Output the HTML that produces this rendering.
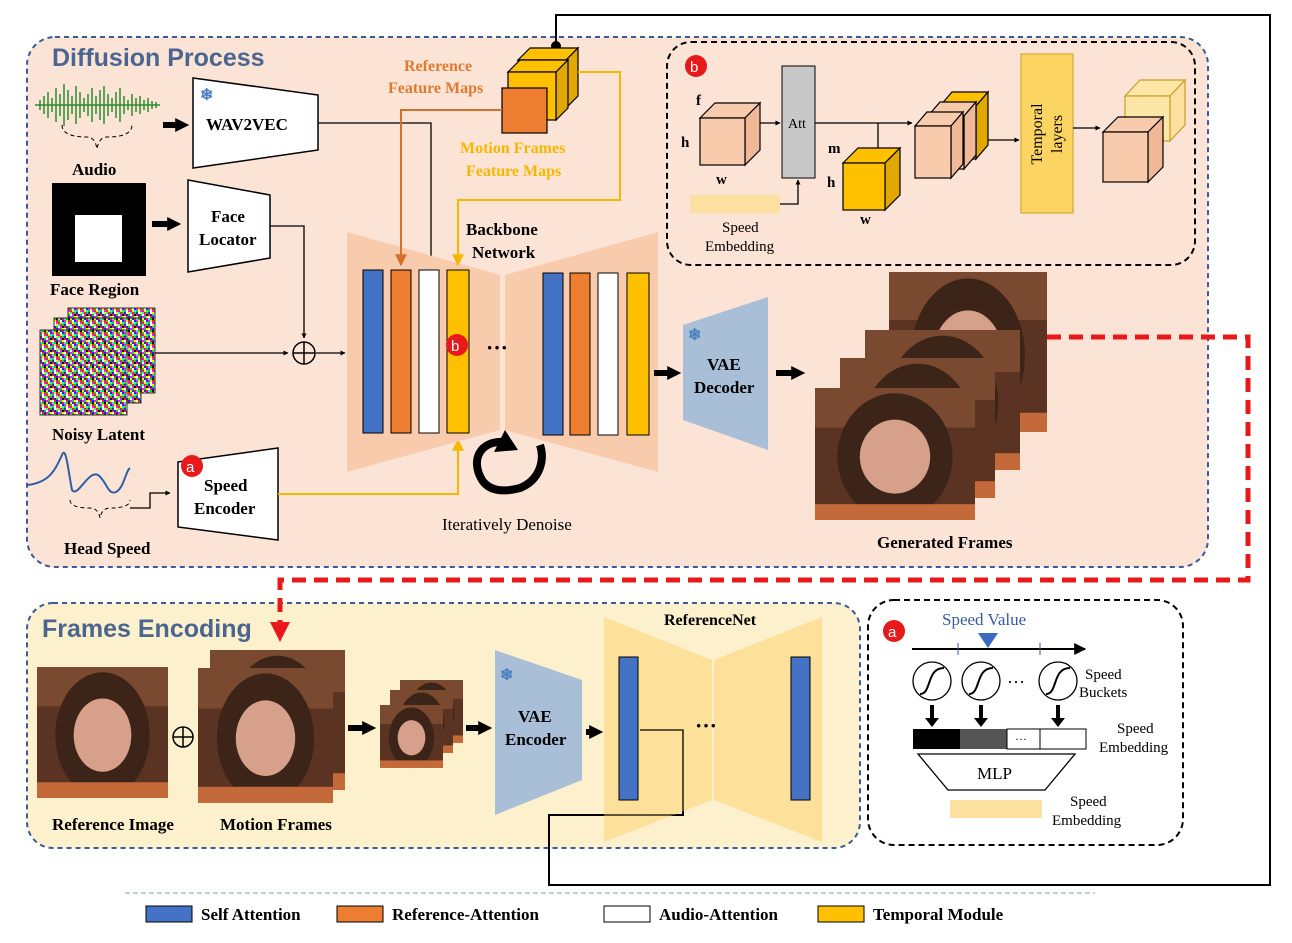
<!DOCTYPE html>
<html><head><meta charset="utf-8"><style>
body{margin:0;background:#fff}
svg{display:block}
text{font-family:"Liberation Serif",serif;font-weight:bold;fill:#000}
.s{font-family:"Liberation Sans",sans-serif}
.n{font-weight:normal}
</style></head><body>
<svg width="1292" height="943" viewBox="0 0 1292 943" xmlns="http://www.w3.org/2000/svg">
<defs>
<marker id="ar" viewBox="0 0 10 10" refX="9" refY="5" markerWidth="6" markerHeight="6" orient="auto"><path d="M0,0L10,5L0,10z" fill="#000"/></marker>
<marker id="at" viewBox="0 0 10 10" refX="2" refY="5" markerWidth="14" markerHeight="16" markerUnits="userSpaceOnUse" orient="auto"><path d="M0,0L10,5L0,10z" fill="#000"/></marker>
<marker id="ao" viewBox="0 0 10 10" refX="9" refY="5" markerWidth="6" markerHeight="6" orient="auto"><path d="M0,0L10,5L0,10z" fill="#d5702a"/></marker>
<marker id="ay" viewBox="0 0 10 10" refX="9" refY="5" markerWidth="6" markerHeight="6" orient="auto"><path d="M0,0L10,5L0,10z" fill="#f5b800"/></marker>
<marker id="ab" viewBox="0 0 10 10" refX="9" refY="5" markerWidth="4" markerHeight="4" orient="auto"><path d="M0,0L10,5L0,10z" fill="#000"/></marker>
<marker id="arr" viewBox="0 0 10 10" refX="9" refY="5" markerWidth="4" markerHeight="4" orient="auto"><path d="M0,0L10,5L0,10z" fill="#e8191a"/></marker>
<pattern id="noise" width="12" height="12" patternUnits="userSpaceOnUse">
<rect width="12" height="12" fill="#555"/>
<rect x="0" y="0" width="2" height="2" fill="#e22"/><rect x="2" y="0" width="2" height="2" fill="#2c2"/><rect x="4" y="0" width="2" height="2" fill="#22e"/><rect x="6" y="0" width="2" height="2" fill="#fff"/><rect x="8" y="0" width="2" height="2" fill="#ee2"/><rect x="10" y="0" width="2" height="2" fill="#2ee"/>
<rect x="0" y="2" width="2" height="2" fill="#e2e"/><rect x="2" y="2" width="2" height="2" fill="#111"/><rect x="4" y="2" width="2" height="2" fill="#e22"/><rect x="6" y="2" width="2" height="2" fill="#22e"/><rect x="8" y="2" width="2" height="2" fill="#2c2"/><rect x="10" y="2" width="2" height="2" fill="#fff"/>
<rect x="0" y="4" width="2" height="2" fill="#2c2"/><rect x="2" y="4" width="2" height="2" fill="#ee2"/><rect x="4" y="4" width="2" height="2" fill="#fff"/><rect x="6" y="4" width="2" height="2" fill="#e22"/><rect x="8" y="4" width="2" height="2" fill="#22e"/><rect x="10" y="4" width="2" height="2" fill="#e2e"/>
<rect x="0" y="6" width="2" height="2" fill="#22e"/><rect x="2" y="6" width="2" height="2" fill="#e22"/><rect x="4" y="6" width="2" height="2" fill="#2ee"/><rect x="6" y="6" width="2" height="2" fill="#2c2"/><rect x="8" y="6" width="2" height="2" fill="#111"/><rect x="10" y="6" width="2" height="2" fill="#ee2"/>
<rect x="0" y="8" width="2" height="2" fill="#fff"/><rect x="2" y="8" width="2" height="2" fill="#22e"/><rect x="4" y="8" width="2" height="2" fill="#e2e"/><rect x="6" y="8" width="2" height="2" fill="#ee2"/><rect x="8" y="8" width="2" height="2" fill="#e22"/><rect x="10" y="8" width="2" height="2" fill="#2c2"/>
<rect x="0" y="10" width="2" height="2" fill="#ee2"/><rect x="2" y="10" width="2" height="2" fill="#2ee"/><rect x="4" y="10" width="2" height="2" fill="#2c2"/><rect x="6" y="10" width="2" height="2" fill="#fff"/><rect x="8" y="10" width="2" height="2" fill="#e2e"/><rect x="10" y="10" width="2" height="2" fill="#e22"/>
</pattern>
<g id="face">
<rect width="100" height="100" fill="#5a3322"/>
<rect width="100" height="30" fill="#7a4a30"/>
<ellipse cx="50" cy="52" rx="36" ry="48" fill="#3d2418"/>
<ellipse cx="50" cy="52" rx="22" ry="28" fill="#d6a08a"/>
<rect x="0" y="88" width="100" height="12" fill="#c46a3a"/>
</g>
</defs>

<rect x="27" y="37" width="1181" height="530" rx="28" fill="#fbe3d6" stroke="#3a5a9a" stroke-width="2" stroke-dasharray="5,4"/>
<rect x="27" y="603" width="833" height="245" rx="26" fill="#fdf0cc" stroke="#3a5a9a" stroke-width="2" stroke-dasharray="5,4"/>
<text x="52" y="66" class="s" font-size="25" style="fill:#4a6690">Diffusion Process</text>
<text x="42" y="637" class="s" font-size="25" style="fill:#4a6690">Frames Encoding</text>

<polyline points="556,45 556,15 1270,15 1270,885 549,885 549,815 683,815 683,730 640,730" fill="none" stroke="#000" stroke-width="2"/>
<circle cx="556" cy="46" r="5" fill="#000"/>

<rect x="667" y="42" width="528" height="223" rx="24" fill="#fbe3d6" stroke="#000" stroke-width="2" stroke-dasharray="6,4"/>
<rect x="868" y="600" width="315" height="245" rx="26" fill="#fff" stroke="#000" stroke-width="2" stroke-dasharray="6,4"/>

<g stroke="#2e8b2e" stroke-width="1.5">
<path d="M35,105 L160,105"/>
<path d="M40,100v10M44,96v18M48,92v26M52,98v14M56,88v34M60,94v22M64,84v42M68,90v30M72,96v18M76,86v38M80,92v26M84,98v14M88,94v22M92,88v34M96,96v18M100,90v30M104,86v38M108,94v22M112,98v14M116,92v26M120,88v34M124,96v18M128,100v10M132,94v22M136,98v14M140,96v18M144,100v10M148,98v14M152,101v8M156,102v6"/>
</g>
<path d="M62,125 q0,12 25,12 q8,0 10,12 q2,-12 10,-12 q25,0 25,-12" fill="none" stroke="#000" stroke-dasharray="4,3"/>
<text x="72" y="175" font-size="17">Audio</text>
<path d="M163,125 H178" stroke="#000" stroke-width="6" marker-end="url(#at)"/>
<polygon points="193,78 318,95 318,150 193,168" fill="#fff" stroke="#000" stroke-width="1.5"/>
<text x="206" y="130" font-size="17">WAV2VEC</text>
<text x="200" y="100" font-size="16" style="fill:#4a7fc0">❄</text>
<polyline points="318,123 431,123 431,265" fill="none" stroke="#000" stroke-width="1.3" marker-end="url(#ab)"/>

<rect x="52" y="183" width="94" height="93" fill="#000"/>
<rect x="75" y="215" width="47" height="47" fill="#fff"/>
<text x="50" y="295" font-size="17">Face Region</text>
<path d="M152,224 H170" stroke="#000" stroke-width="6" marker-end="url(#at)"/>
<polygon points="188,180 270,195 270,258 188,272" fill="#fff" stroke="#000" stroke-width="1.5"/>
<text x="211" y="222" font-size="17">Face</text>
<text x="199" y="245" font-size="17">Locator</text>
<polyline points="270,226 304,226 304,338" fill="none" stroke="#000" stroke-width="1.3" marker-end="url(#ab)"/>

<rect x="68" y="308" width="87" height="85" fill="url(#noise)" stroke="#333"/>
<rect x="54" y="318" width="87" height="85" fill="url(#noise)" stroke="#333"/>
<rect x="40" y="330" width="87" height="85" fill="url(#noise)" stroke="#333"/>
<text x="52" y="440" font-size="17">Noisy Latent</text>
<path d="M155,353 H288" stroke="#000" stroke-width="1.3" marker-end="url(#ab)"/>
<circle cx="304" cy="353" r="11" fill="none" stroke="#000" stroke-width="1.5"/>
<path d="M293,353H315M304,342V364" stroke="#000" stroke-width="1.5"/>
<path d="M316,353 H345" stroke="#000" stroke-width="1.3" marker-end="url(#ab)"/>

<path d="M28,485 C50,482 55,470 62,455 C66,445 68,470 72,490 C78,498 88,470 98,475 C106,480 108,496 116,492 C124,488 126,470 130,468" fill="none" stroke="#2e5ea8" stroke-width="2"/>
<path d="M70,500 q0,8 20,8 q8,0 10,10 q2,-10 10,-10 q20,0 20,-8" fill="none" stroke="#000" stroke-dasharray="4,3"/>
<text x="64" y="554" font-size="17">Head Speed</text>
<polyline points="130,508 150,508 150,493 170,493" fill="none" stroke="#000" stroke-width="1.3" marker-end="url(#ab)"/>
<polygon points="178,462 278,448 278,540 178,527" fill="#fff" stroke="#000" stroke-width="1.5"/>
<text x="204" y="491" font-size="17">Speed</text>
<text x="194" y="514" font-size="17">Encoder</text>
<circle cx="192" cy="466" r="11" fill="#e8191a"/><text x="186" y="472" class="s n" font-size="15" style="fill:#fff">a</text>
<polyline points="278,494 458,494 458,440" fill="none" stroke="#f5b800" stroke-width="2" marker-end="url(#ay)"/>

<polygon points="347,232 500,275 500,430 347,472" fill="#f8cbad"/>
<polygon points="658,232 505,275 505,430 658,472" fill="#f8cbad"/>
<rect x="363" y="270" width="20" height="163" fill="#4472c4" stroke="#000"/>
<rect x="391" y="270" width="20" height="163" fill="#ed7d31" stroke="#000"/>
<rect x="419" y="270" width="20" height="163" fill="#fff" stroke="#000"/>
<rect x="447" y="270" width="22" height="163" fill="#ffc000" stroke="#000"/>
<rect x="543" y="273" width="20" height="162" fill="#4472c4" stroke="#000"/>
<rect x="570" y="273" width="20" height="162" fill="#ed7d31" stroke="#000"/>
<rect x="598" y="273" width="20" height="162" fill="#fff" stroke="#000"/>
<rect x="627" y="273" width="22" height="162" fill="#ffc000" stroke="#000"/>
<circle cx="457" cy="345" r="11" fill="#e8191a"/><text x="451" y="351" class="s n" font-size="15" style="fill:#fff">b</text>
<text x="486" y="355" font-size="22">···</text>
<text x="466" y="235" font-size="17">Backbone</text>
<text x="472" y="258" font-size="17">Network</text>
<path d="M505,442 C480,440 470,460 482,480 C490,492 505,492 520,488 C540,480 545,460 540,445" fill="none" stroke="#000" stroke-width="8"/>
<polygon points="505,430 518,450 494,452" fill="#000"/>
<text x="442" y="530" class="n" font-size="17">Iteratively Denoise</text>

<g stroke="#000" stroke-width="1.2">
<polygon points="518,60 530,48 578,48 566,60" fill="#ffc000"/><polygon points="566,60 578,48 578,96 566,108" fill="#e0a800"/><rect x="518" y="60" width="48" height="48" fill="#ffc000"/>
<polygon points="508,72 520,60 568,60 556,72" fill="#ffc000"/><polygon points="556,72 568,60 568,108 556,120" fill="#e0a800"/><rect x="508" y="72" width="48" height="48" fill="#ffc000"/>
<rect x="502" y="88" width="45" height="45" fill="#ed7d31"/>
</g>
<text x="404" y="71" font-size="16" style="fill:#e07a30">Reference</text>
<text x="388" y="93" font-size="16" style="fill:#e07a30">Feature Maps</text>
<text x="460" y="153" font-size="16" style="fill:#f5b800">Motion Frames</text>
<text x="466" y="176" font-size="16" style="fill:#f5b800">Feature Maps</text>
<polyline points="502,110 401,110 401,265" fill="none" stroke="#d5702a" stroke-width="2" marker-end="url(#ao)"/>
<polyline points="578,72 620,72 620,200 458,200 458,265" fill="none" stroke="#f5b800" stroke-width="2" marker-end="url(#ay)"/>

<path d="M654,373 H670" stroke="#000" stroke-width="6" marker-end="url(#at)"/>
<polygon points="683,325 768,297 768,450 683,420" fill="#a9bfd8"/>
<text x="688" y="340" font-size="16" style="fill:#4a7fc0">❄</text>
<text x="707" y="370" font-size="17">VAE</text>
<text x="694" y="393" font-size="17">Decoder</text>
<path d="M776,373 H794" stroke="#000" stroke-width="6" marker-end="url(#at)"/>

<use href="#face" transform="translate(889,272) scale(1.58,1.6)"/>
<use href="#face" transform="translate(865,330) scale(1.55,1.4)"/>
<use href="#face" transform="translate(840,358) scale(1.55,1.4)"/>
<use href="#face" transform="translate(815,388) scale(1.6,1.32)"/>
<text x="877" y="548" font-size="17">Generated Frames</text>

<polyline points="1047,337 1248,337 1248,580 280,580 280,640" fill="none" stroke="#e8191a" stroke-width="5" stroke-dasharray="14,8" marker-end="url(#arr)"/>

<circle cx="696" cy="66" r="11" fill="#e8191a"/><text x="690" y="72" class="s n" font-size="15" style="fill:#fff">b</text>
<g stroke="#000" stroke-width="1.2">
<polygon points="700,118 715,103 760,103 745,118" fill="#f8cbad"/><polygon points="745,118 760,103 760,150 745,165" fill="#f0b896"/><rect x="700" y="118" width="45" height="47" fill="#f8cbad"/>
</g>
<text x="696" y="105" font-size="15">f</text><text x="681" y="147" font-size="15">h</text><text x="716" y="184" font-size="15">w</text>
<path d="M760,123 H780" stroke="#000" stroke-width="1.3" marker-end="url(#ab)"/>
<rect x="782" y="66" width="33" height="112" fill="#c8c8c8" stroke="#000"/>
<text x="788" y="128" class="n" font-size="14">Att</text>
<rect x="690" y="195" width="90" height="18" fill="#fce0a0"/>
<polyline points="780,204 798,204 798,180" fill="none" stroke="#000" stroke-width="1.3" marker-end="url(#ab)"/>
<text x="722" y="232" class="n" font-size="15">Speed</text>
<text x="705" y="251" class="n" font-size="15">Embedding</text>
<path d="M815,123 H912" stroke="#000" stroke-width="1.3" marker-end="url(#ab)"/>
<path d="M878,123 V160" stroke="#000" stroke-width="1.3"/>
<g stroke="#000" stroke-width="1.2">
<polygon points="843,163 858,148 900,148 885,163" fill="#ffc000"/><polygon points="885,163 900,148 900,195 885,210" fill="#e0a800"/><rect x="843" y="163" width="42" height="47" fill="#ffc000"/>
</g>
<text x="828" y="153" font-size="15">m</text><text x="827" y="187" font-size="15">h</text><text x="860" y="224" font-size="15">w</text>
<g stroke="#000" stroke-width="1.2">
<polygon points="940,106 952,92 988,92 976,106" fill="#ffc000"/><polygon points="976,106 988,92 988,145 976,159" fill="#e0a800"/><rect x="940" y="106" width="36" height="53" fill="#ffc000"/>
<polygon points="928,116 940,102 976,102 964,116" fill="#f8cbad"/><polygon points="964,116 976,102 976,155 964,169" fill="#f0b896"/><rect x="928" y="116" width="36" height="53" fill="#f8cbad"/>
<polygon points="915,126 927,112 963,112 951,126" fill="#f8cbad"/><polygon points="951,126 963,112 963,164 951,178" fill="#f0b896"/><rect x="915" y="126" width="36" height="52" fill="#f8cbad"/>
</g>
<path d="M988,140 H1019" stroke="#000" stroke-width="1.3" marker-end="url(#ab)"/>
<rect x="1021" y="54" width="52" height="159" fill="#fcd461" stroke="#c9a020"/>
<text transform="translate(1042,134) rotate(-90)" text-anchor="middle" class="n" font-size="16">Temporal</text>
<text transform="translate(1062,134) rotate(-90)" text-anchor="middle" class="n" font-size="16">layers</text>
<path d="M1073,128 H1100" stroke="#000" stroke-width="1.3" marker-end="url(#ab)"/>
<g stroke-width="1.2">
<polygon points="1125,96 1140,80 1185,80 1170,96" fill="#fde6a8" stroke="#c9a020"/><polygon points="1170,96 1185,80 1185,125 1170,141" fill="#fde0a0" stroke="#c9a020"/><rect x="1125" y="96" width="45" height="45" fill="#fde6a8" stroke="#c9a020"/>
<polygon points="1103,132 1118,117 1163,117 1148,132" fill="#f8cbad" stroke="#000"/><polygon points="1148,132 1163,117 1163,167 1148,182" fill="#f0b896" stroke="#000"/><rect x="1103" y="132" width="45" height="50" fill="#f8cbad" stroke="#000"/>
</g>

<use href="#face" transform="translate(37,667) scale(1.31,1.31)"/>
<text x="52" y="830" font-size="17">Reference Image</text>
<circle cx="183" cy="737" r="10" fill="none" stroke="#000" stroke-width="1.5"/>
<path d="M173,737H193M183,727V747" stroke="#000" stroke-width="1.5"/>
<use href="#face" transform="translate(210,650) scale(1.35,1.4)"/>
<use href="#face" transform="translate(198,668) scale(1.35,1.35)"/>
<text x="220" y="830" font-size="17">Motion Frames</text>
<path d="M348,728 H365" stroke="#000" stroke-width="6" marker-end="url(#at)"/>
<use href="#face" transform="translate(400,680) scale(0.63,0.63)"/>
<use href="#face" transform="translate(390,690) scale(0.63,0.63)"/>
<use href="#face" transform="translate(380,705) scale(0.63,0.63)"/>
<path d="M466,728 H481" stroke="#000" stroke-width="6" marker-end="url(#at)"/>
<polygon points="495,650 582,680 582,780 495,815" fill="#a9bfd8"/>
<text x="500" y="680" font-size="16" style="fill:#4a7fc0">❄</text>
<text x="518" y="722" font-size="17">VAE</text>
<text x="505" y="745" font-size="17">Encoder</text>
<path d="M586,732 H592" stroke="#000" stroke-width="6" marker-end="url(#at)"/>
<polygon points="604,617 712,660 712,800 604,842" fill="#fde09a"/>
<polygon points="822,617 714,660 714,800 822,842" fill="#fde09a"/>
<rect x="619" y="657" width="19" height="143" fill="#4472c4" stroke="#000"/>
<rect x="791" y="657" width="19" height="143" fill="#4472c4" stroke="#000"/>
<text x="695" y="733" font-size="22">···</text>
<text x="664" y="625" font-size="16">ReferenceNet</text>
<polyline points="640,730 683,730 683,815 549,815" fill="none" stroke="#000" stroke-width="1.3"/>

<circle cx="894" cy="631" r="11" fill="#e8191a"/><text x="888" y="637" class="s n" font-size="15" style="fill:#fff">a</text>
<text x="942" y="625" class="n" font-size="17" style="fill:#3a5aa0">Speed Value</text>
<path d="M912,649 H1085" stroke="#000" stroke-width="2" marker-end="url(#ar)"/>
<path d="M958,643v12M1040,643v12" stroke="#3a5aa0"/>
<polygon points="978,633 998,633 988,648" fill="#3a6ac0"/>
<g fill="#fff" stroke="#000" stroke-width="1.3">
<circle cx="932" cy="681" r="19"/><circle cx="981" cy="681" r="19"/><circle cx="1058" cy="681" r="19"/>
</g>
<g fill="none" stroke="#000" stroke-width="2">
<path d="M920,694 C932,694 926,668 944,668"/><path d="M969,694 C981,694 975,668 993,668"/><path d="M1046,694 C1058,694 1052,668 1070,668"/>
</g>
<text x="1007" y="688" class="n" font-size="18">···</text>
<text x="1085" y="679" class="n" font-size="15">Speed</text>
<text x="1079" y="697" class="n" font-size="15">Buckets</text>
<path d="M932,705v18M981,705v18M1058,705v18" stroke="#000" stroke-width="4"/>
<polygon points="925,718 939,718 932,727" fill="#000"/><polygon points="974,718 988,718 981,727" fill="#000"/><polygon points="1051,718 1065,718 1058,727" fill="#000"/>
<rect x="913" y="729" width="47" height="20" fill="#000"/>
<rect x="960" y="729" width="47" height="20" fill="#555"/>
<rect x="1007" y="729" width="33" height="20" fill="#fff" stroke="#000"/>
<rect x="1040" y="729" width="46" height="20" fill="#fff" stroke="#000"/>
<text x="1015" y="743" class="n" font-size="12">···</text>
<text x="1117" y="733" class="n" font-size="15">Speed</text>
<text x="1099" y="752" class="n" font-size="15">Embedding</text>
<polygon points="918,754 1075,754 1045,790 948,790" fill="#fff" stroke="#000" stroke-width="1.3"/>
<text x="977" y="779" class="n" font-size="17">MLP</text>
<rect x="950" y="800" width="92" height="18" fill="#fce0a0"/>
<text x="1070" y="806" class="n" font-size="15">Speed</text>
<text x="1052" y="825" class="n" font-size="15">Embedding</text>

<path d="M125,893 H1095" stroke="#8a9ac0" stroke-dasharray="5,3"/>
<rect x="146" y="906" width="46" height="16" fill="#4472c4" stroke="#000"/>
<text x="201" y="920" font-size="17">Self Attention</text>
<rect x="337" y="906" width="46" height="16" fill="#ed7d31" stroke="#000"/>
<text x="392" y="920" font-size="17">Reference-Attention</text>
<rect x="604" y="906" width="46" height="16" fill="#fff" stroke="#000"/>
<text x="659" y="920" font-size="17">Audio-Attention</text>
<rect x="818" y="906" width="46" height="16" fill="#ffc000" stroke="#000"/>
<text x="873" y="920" font-size="17">Temporal Module</text>
</svg>
</body></html>
